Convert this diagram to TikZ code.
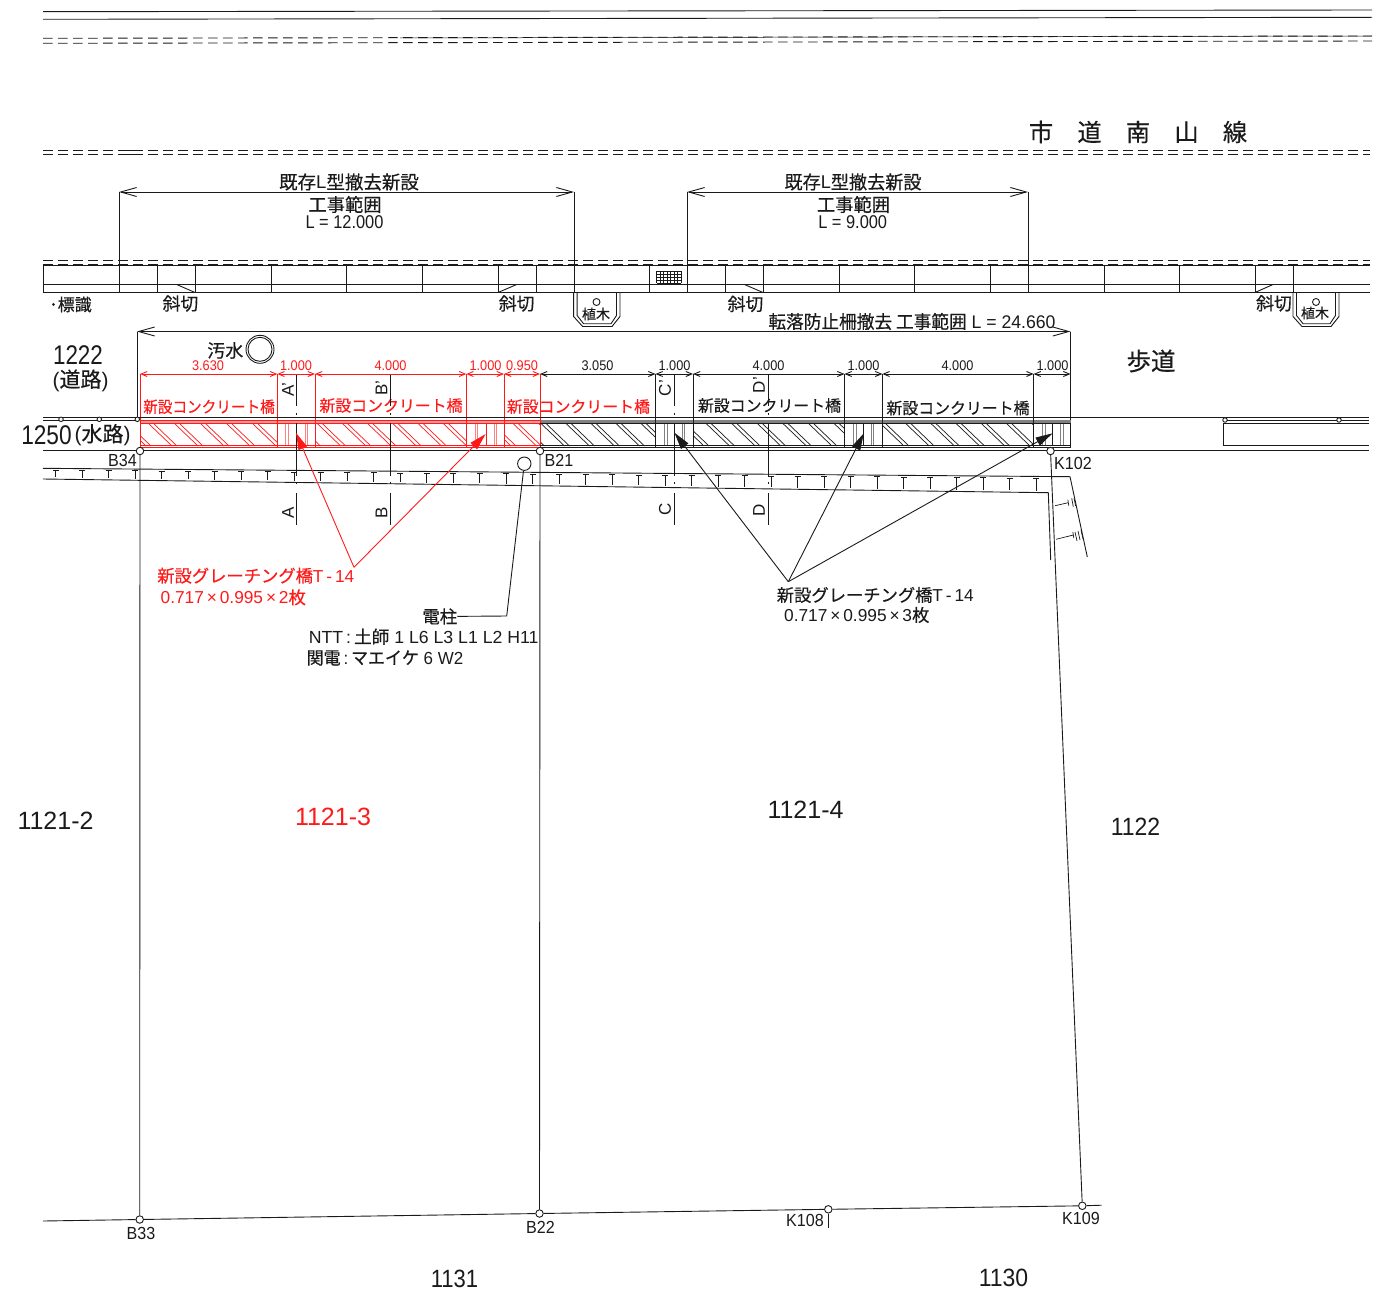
\documentclass[tikz,border=0pt]{standalone}
\usepackage{graphicx}
\usepackage{fontspec}
\usetikzlibrary{arrows.meta}
\setmainfont{Liberation Sans}
\newfontfamily\jpf[FakeBold=0.4]{Noto Sans CJK JP}
\newcommand\J[1]{{\jpf #1}}
\definecolor{ink}{HTML}{1A1A1A}
\definecolor{rd}{HTML}{FF1A1A}
\tikzset{
  lab/.style={inner sep=0pt,outer sep=0pt,anchor=center},
  ln/.style={draw=ink,line width=0.9pt},
  rl/.style={draw=rd,line width=0.9pt},
  dsh/.style={ln,dash pattern=on 9.5pt off 5.5pt},
  bigdim/.style={ln,{Straight Barb[length=16pt,width=9pt]}-{Straight Barb[length=16pt,width=9pt]}},
  dimk/.style={ln,{Straight Barb[length=6pt,width=5pt]}-{Straight Barb[length=6pt,width=5pt]}},
  dimr/.style={rl,{Straight Barb[length=6pt,width=5pt]}-{Straight Barb[length=6pt,width=5pt]}},
  ptc/.style={circle,draw=ink,line width=0.9pt,fill=white,minimum size=7.5pt,inner sep=0pt},
  ptm/.style={circle,draw=ink,line width=0.9pt,fill=white,minimum size=4.5pt,inner sep=0pt},
  leadk/.style={ln,-{Triangle[length=17pt,width=9pt]}},
  leadr/.style={rl,-{Triangle[length=17pt,width=9pt]}},
}
\newcommand\tx[6][ink]{\node[lab,text=#1] (#2) at (#3) {\fontsize{#4pt}{#4pt}\selectfont\scalebox{#5}[1]{#6}};}
\newcommand\hatch[5]{% x0,x1,colour,first,step
  \begin{scope}
    \clip (#1,423) rectangle (#2,446);
    \foreach \k in {0,...,7}{
      \pgfmathsetmacro\xa{#4+\k*#5}
      \draw[draw=#3,line width=0.7pt] (\xa,423) -- ++(24,23);
      \draw[draw=#3,line width=0.7pt] (\xa+5,423) -- ++(24,23);
    }
  \end{scope}}
\newcommand\grate[6]{% colour and five x
  \foreach \g in {#2,#3,#5,#6}{\draw[draw=#1!55,line width=0.6pt] (\g,423) -- (\g,446);}
  \draw[draw=#1,line width=0.7pt] (#4,423) -- (#4,446);}
\newcommand\sect[1]{%
  \draw[ln] (#1,375) -- (#1,406);
  \draw[ln] (#1,413) -- (#1,415);
  \draw[ln] (#1,423) -- (#1,476);
  \draw[ln] (#1,482) -- (#1,484);
  \draw[ln] (#1,493) -- (#1,525);}
\newcommand\planter[3]{% left x, right x, name
  \draw[ln] (#1,292.5) -- (#1,316.5) -- (#1+9,326.5) -- (#2-8,326.5) -- (#2,316.5) -- (#2,292.5);
  \draw[ln] (#1+3.5,292.5) -- (#1+3.5,315.5) -- (#1+10,323.7) -- (#2-9,323.7) -- (#2-3.5,315.5) -- (#2-3.5,292.5);}
\begin{document}
\begin{tikzpicture}[x=1pt,y=-1pt]
\useasboundingbox (0,0) rectangle (1396,1295);
% road lines at top
\draw[ln] (43,11.7) -- (1372,10);
\draw[ln] (43,19.3) -- (1372,17.3);
\draw[dsh] (43,38.3) -- (1372,36);
\draw[dsh] (43,43.3) -- (1372,41);
\draw[ln,line width=0.5pt] (400,38) -- (1372,36);
\draw[dsh] (43,150) -- (1370,150);
\draw[dsh] (43,154.5) -- (1370,154.5);
\draw[ln] (122,150) -- (139,150) (122,154.5) -- (139,154.5);
\tx{title}{1138,132}{24.25}{1}{\J{市　道　南　山　線}}
% L ditch
\draw[dsh] (43,260) -- (1370,260);
\draw[dsh] (43,264) -- (1370,264);
\draw[ln] (43.4,292.5) -- (43.4,265) -- (1369.5,265);
\draw[ln] (43,284.5) -- (1369.5,284.5);
\draw[ln] (43,292.5) -- (1369.5,292.5);
\foreach \v in {157,195,271,346.5,422,498,536,649.5,725,763,839,914,990,1104,1179.5,1255,1293}{\draw[ln] (\v,265) -- (\v,292.5);}
\draw[ln] (176.7,284.5) -- (195,292.5);
\draw[ln] (498,292.5) -- (516.7,284.5);
\draw[ln] (744.5,284.5) -- (763,292.5);
\draw[ln] (1255,292.5) -- (1273,284.5);
\foreach \g in {0,...,7}{\draw[draw=ink,line width=0.6pt] (656.5+\g*3.5,271) -- (656.5+\g*3.5,283.3);}
\foreach \g in {0,...,4}{\draw[draw=ink,line width=0.6pt] (656.5,271+\g*3.07) -- (681,271+\g*3.07);}
% L ditch ranges
\draw[bigdim] (119,192) -- (574,192);
\draw[bigdim] (687,192) -- (1028,192);
\draw[ln] (119,192) -- (119,292.5);
\draw[ln] (574,192) -- (574,292.5);
\draw[ln] (687,192) -- (687,292.5);
\draw[ln] (1028,192) -- (1028,292.5);
\tx{ra}{349,182}{18.5}{1}{\J{既存}L\J{型撤去新設}}
\tx{rb}{345,204.5}{18.3}{1}{\J{工事範囲}}
\tx{rc}{344.5,221.7}{18.5}{0.886}{L = 12.000}
\tx{rd}{853,182}{18.5}{0.98}{\J{既存}L\J{型撤去新設}}
\tx{re}{853.5,204.5}{18.3}{1}{\J{工事範囲}}
\tx{rf}{852.7,221.7}{18.5}{0.886}{L = 9.000}
\tx{sy}{70.5,304.5}{17}{1}{\J{･標識}}
\tx{sa}{180.5,303.5}{17.8}{1}{\J{斜切}}
\tx{sb}{516.7,303.5}{17.8}{1}{\J{斜切}}
\tx{sc}{745.5,304}{17.8}{1}{\J{斜切}}
\tx{sd}{1274,303.3}{17.8}{1}{\J{斜切}}
% planters
\planter{573.6}{620}{}
\planter{1293}{1339}{}
\node[ptc,minimum size=7pt] (tree1) at (596.5,302) {};
\node[ptc,minimum size=7pt] (tree2) at (1316,302) {};
\tx{ta}{596,314}{14}{1}{\J{植木}}
\tx{tb}{1315,313}{14}{1}{\J{植木}}
% long range
\draw[bigdim] (137,331.5) -- (1070.5,331.5);
\draw[ln] (137,331.5) -- (137,419);
\draw[ln] (1070.5,331.5) -- (1070.5,448);
\tx{lg}{912,321.5}{18.3}{0.965}{\J{転落防止柵撤去 工事範囲} L = 24.660}
\tx{ow}{225.3,350.5}{18}{1}{\J{汚水}}
\node[circle,draw=ink,line width=0.9pt,minimum size=28pt,inner sep=0pt] (mh) at (260,349.3) {};
\node[circle,draw=ink,line width=0.9pt,minimum size=24pt,inner sep=0pt] (mh2) at (260,349.3) {};
\tx{n1222}{78,355.5}{27}{0.83}{1222}
\tx{road}{80.5,380.5}{21}{1}{(\J{道路})}
\tx{n1250}{46.5,435}{27}{0.84}{1250}
\tx{wat}{102.5,435}{21}{1}{(\J{水路})}
\tx{hd}{1151,361}{24.5}{1}{\J{歩道}}
% channel: band
\fill[rd!45] (140,420) rectangle (540,423);
\fill[ink!55] (540,420) rectangle (1070.5,423);
\hatch{140}{277.3}{rd}{122}{26}
\hatch{315}{466.3}{rd}{291.5}{25.2}
\hatch{504}{540}{rd}{487}{25.5}
\hatch{540}{655.5}{ink}{515.5}{25}
\hatch{693}{844.5}{ink}{680}{25.6}
\hatch{882.4}{1033.6}{ink}{880}{25.2}
\grate{rd}{285.5}{288}{296}{305}{307.5}
\grate{rd}{475}{477.3}{486}{494}{496.3}
\grate{ink}{664.5}{667}{674.4}{682}{684.5}
\grate{ink}{853.6}{856}{863.5}{871}{873.6}
\grate{ink}{1042.7}{1045}{1052.5}{1060}{1063}
% channel verticals
\foreach \v in {655.5,693,844.5,882.4,1033.6}{\draw[ln] (\v,374) -- (\v,447.5);}
\foreach \v in {140,277.3,315,466.3,504,540}{\draw[rl] (\v,374) -- (\v,447.5);}
\draw[rl] (140,420) -- (540,420);
\draw[rl] (140,423) -- (540,423);
\draw[rl] (140,445.7) -- (540,445.7);
\draw[rl] (140,447.7) -- (540,447.7);
\draw[ln] (540,423) -- (1070.5,423);
\draw[ln] (540,445.7) -- (1070.5,445.7);
\draw[ln] (540,447.7) -- (1070.5,447.7);
\draw[ln] (43,420) -- (137,420);
\draw[ln] (43,417.7) -- (1369,417.7);
\draw[ln] (43,450.7) -- (1369,450.7);
\draw[ln] (1225,420) -- (1369,420);
\draw[ln] (1369,423) -- (1223,423) -- (1223,445.5) -- (1369,445.5);
\node[ptm] (m1) at (61,419.3) {};
\node[ptm] (m2) at (99.3,419.3) {};
\node[ptm] (m3) at (137.3,419.3) {};
\node[ptm] (m4) at (1225,420) {};
\node[ptm] (m5) at (1339,420) {};
% dimensions
\foreach \a/\b in {140/277.3,277.3/315,315/466.3,466.3/504,504/540}{\draw[dimr] (\a,374) -- (\b,374);}
\foreach \a/\b in {540/655.5,655.5/693,693/844.5,844.5/882.4,882.4/1033.6,1033.6/1070.5}{\draw[dimk] (\a,374) -- (\b,374);}
\tx[rd]{d1}{208,366}{14}{0.91}{3.630}
\tx[rd]{d2}{296,366}{14}{0.91}{1.000}
\tx[rd]{d3}{390.5,366}{14}{0.91}{4.000}
\tx[rd]{d4}{485.5,366}{14}{0.91}{1.000}
\tx[rd]{d5}{522,366}{14}{0.91}{0.950}
\tx{d6}{597.5,366}{14}{0.91}{3.050}
\tx{d7}{674.5,366}{14}{0.91}{1.000}
\tx{d8}{768.5,366}{14}{0.91}{4.000}
\tx{d9}{863.5,366}{14}{0.91}{1.000}
\tx{d10}{957.5,366}{14}{0.91}{4.000}
\tx{d11}{1052.5,366}{14}{0.91}{1.000}
\tx[rd]{c1}{209,406.7}{15.9}{0.92}{\J{新設コンクリート橋}}
\tx[rd]{c2}{391,405.5}{15.9}{1}{\J{新設コンクリート橋}}
\tx[rd]{c3}{578.4,406.5}{15.9}{1}{\J{新設コンクリート橋}}
\tx{c4}{769.5,405.5}{15.9}{1}{\J{新設コンクリート橋}}
\tx{c5}{958,408}{15.9}{1}{\J{新設コンクリート橋}}
% sections
\sect{296}\sect{390.7}\sect{674}\sect{768.5}
\node[lab,text=ink,rotate=90] (sa1) at (288,389.5) {\fontsize{17pt}{17pt}\selectfont A'};
\node[lab,text=ink,rotate=90] (sa2) at (288,513) {\fontsize{17pt}{17pt}\selectfont A};
\node[lab,text=ink,rotate=90] (sb1) at (381.5,388) {\fontsize{17pt}{17pt}\selectfont B'};
\node[lab,text=ink,rotate=90] (sb2) at (381.5,513) {\fontsize{17pt}{17pt}\selectfont B};
\node[lab,text=ink,rotate=90] (sc1) at (665,388) {\fontsize{17pt}{17pt}\selectfont C'};
\node[lab,text=ink,rotate=90] (sc2) at (665,509.5) {\fontsize{17pt}{17pt}\selectfont C};
\node[lab,text=ink,rotate=90] (sd1) at (759,385) {\fontsize{17pt}{17pt}\selectfont D'};
\node[lab,text=ink,rotate=90] (sd2) at (759,510) {\fontsize{17pt}{17pt}\selectfont D};
% retaining wall with T marks
\draw[ln] (43,468.3) -- (1070,476.7) -- (1087.3,557);
\draw[ln] (43,479) -- (1048.3,492.7) -- (1050.7,560);
\foreach \k in {0,...,37}{
  \pgfmathsetmacro\tux{55.7+\k*26.5}
  \pgfmathsetmacro\tua{468.3+(\tux-43)*0.00818+1.7}
  \pgfmathsetmacro\tub{479+(\tux-43)*0.01363-1.7}
  \draw[ln,line width=0.7pt] (\tux-3,\tua) -- (\tux+3,\tua) (\tux,\tua) -- (\tux,\tub);
}
\draw[ln,line width=0.7pt] (1055,505.7) -- (1068.3,502.7) (1067.8,499.7) -- (1068.8,505.7) (1071.7,498.3) -- (1073.3,506.7) (1074,498) -- (1075.6,506);
\draw[ln,line width=0.7pt] (1056,539.3) -- (1073.3,535) (1072.8,532) -- (1073.8,538) (1075,532) -- (1077,541) (1078,531) -- (1080,540) (1081,530) -- (1083,539);
% survey points and boundaries
\node[ptc] (B34) at (140,451) {};
\node[ptc] (B21) at (540,451) {};
\node[ptc] (K102) at (1050.5,451) {};
\node[ptc] (B33) at (139.7,1219.5) {};
\node[ptc] (B22) at (539.5,1213.5) {};
\node[ptc] (K108) at (828.3,1209.3) {};
\node[ptc] (K109) at (1082.3,1205.8) {};
\coordinate (bl) at (43,1221);
\coordinate (br) at (1101.7,1205.2);
\coordinate (ktick) at (828.3,1228);
\draw[ln] (bl) -- (B33) -- (B22) -- (K108) -- (K109) -- (br);
\draw[ln] (B34) -- (B33);
\draw[ln] (B21) -- (B22);
\draw[ln] (K102) -- (K109);
\draw[ln] (K108) -- (ktick);
\tx{lB34}{122.5,460}{17.5}{0.92}{B34}
\tx{lB21}{559,460.5}{17.5}{0.92}{B21}
\tx{lK102}{1073,463.5}{17.5}{0.92}{K102}
\tx{lB33}{141,1233.5}{17.5}{0.92}{B33}
\tx{lB22}{540.5,1227}{17.5}{0.92}{B22}
\tx{lK108}{805,1220.5}{17.5}{0.92}{K108}
\tx{lK109}{1081,1218.5}{17.5}{0.92}{K109}
% pole
\node[circle,draw=ink,line width=0.9pt,minimum size=13.4pt,inner sep=0pt] (pole) at (524.3,463.7) {};
\tx{dc}{439.8,616.5}{17.5}{1}{\J{電柱}}
\coordinate (pc) at (506.7,616);
\draw[ln] (pole) -- (pc) -- (dc);
\tx{nt}{423.7,636.7}{17.5}{1.01}{NTT\,:\,\J{土師} 1 L6 L3 L1 L2 H11}
\tx{kd}{385,658}{17.5}{0.97}{\J{関電}\,:\,\J{マエイケ} 6 W2}
% leaders
\coordinate (ar) at (354,567.3);
\coordinate (ak) at (788.3,581.7);
\coordinate (ta1) at (296,432.7);
\coordinate (ta2) at (485.7,434);
\coordinate (tk1) at (674.4,432.7);
\coordinate (tk2) at (863.8,433.3);
\coordinate (tk3) at (1052.5,433.3);
\draw[leadr] (ar) -- (ta1);
\draw[leadr] (ar) -- (ta2);
\draw[leadk] (ak) -- (tk1);
\draw[leadk] (ak) -- (tk2);
\draw[leadk] (ak) -- (tk3);
\tx[rd]{gr1}{255.8,575.7}{17.3}{1}{\J{新設グレーチング橋}T\,-\,14}
\tx[rd]{gr2}{233.3,597.3}{17.3}{1}{0.717\,×\,0.995\,×\,2\J{枚}}
\tx{gk1}{875.3,595}{17.3}{1}{\J{新設グレーチング橋}T\,-\,14}
\tx{gk2}{856.8,615}{17.3}{1}{0.717\,×\,0.995\,×\,3\J{枚}}
% parcels
\tx{p1}{55.5,821}{25}{1}{1121-2}
\tx[rd]{p2}{333,817}{25}{1}{1121-3}
\tx{p3}{805.5,810}{25}{1}{1121-4}
\tx{p4}{1135.5,827}{25}{0.92}{1122}
\tx{p5}{454.5,1279}{25}{0.88}{1131}
\tx{p6}{1003.5,1278}{25}{0.92}{1130}
\end{tikzpicture}
\end{document}
